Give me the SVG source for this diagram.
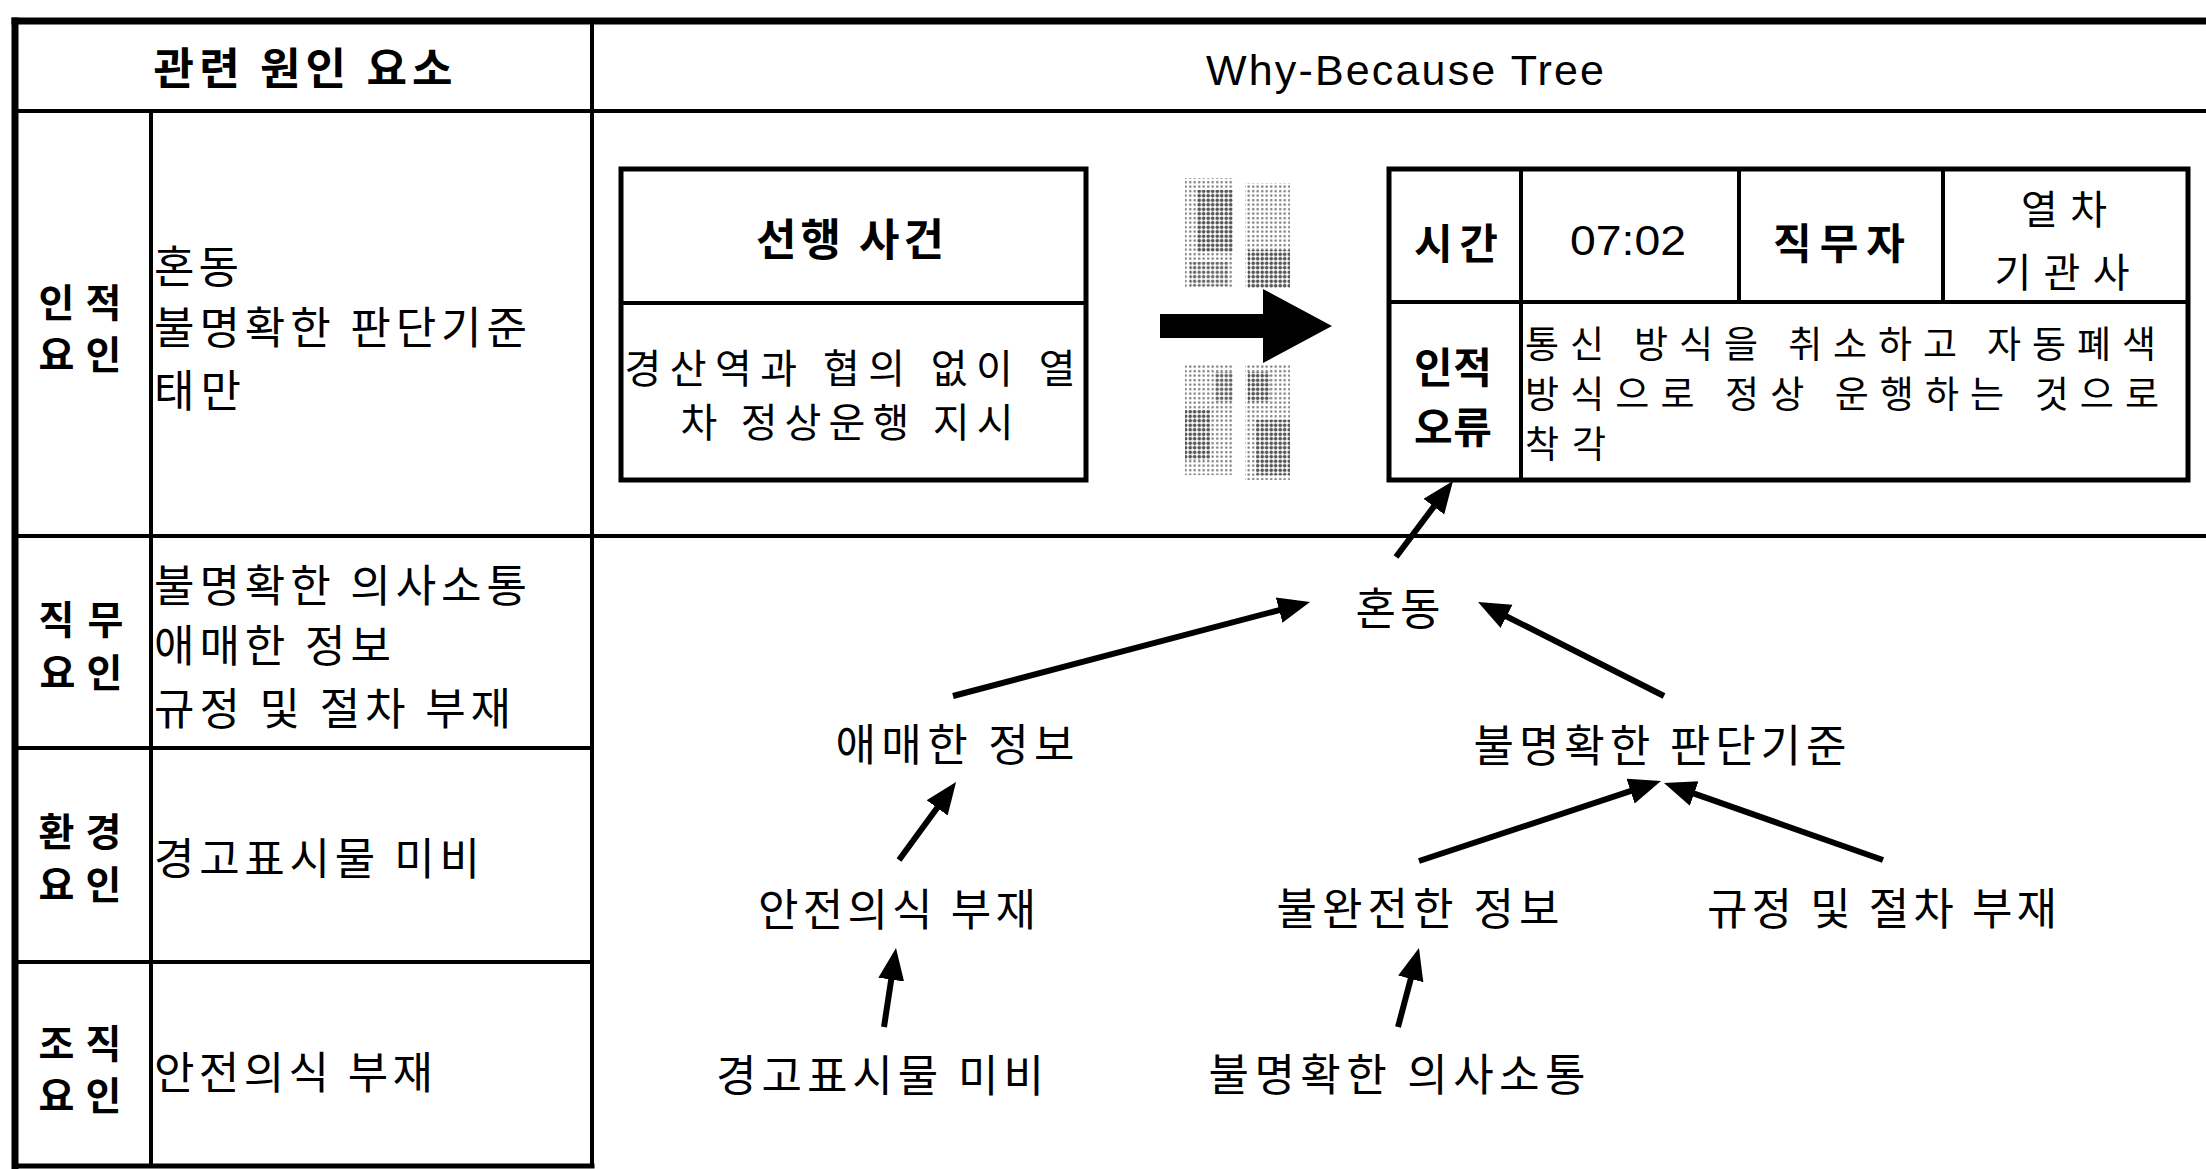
<svg xmlns="http://www.w3.org/2000/svg" width="2206" height="1169" viewBox="0 0 2206 1169">
<style>
.t{font-family:'Noto Sans CJK KR','Noto Sans',sans-serif;font-size:44px;fill:#000;dominant-baseline:central}
.s{font-size:40px}
.k{font-size:42px}
.r{font-size:39px}
.q{font-size:37px}
.l{font-family:'Liberation Sans',Arial,sans-serif;fill:#000;dominant-baseline:central}
.b{font-weight:bold}
.m{text-anchor:middle}
.fr{stroke:#000;fill:none;stroke-linecap:square}
.ar{stroke:#000;stroke-width:6;fill:none;marker-end:url(#ah)}
</style>
<defs>
<marker id="ah" markerUnits="userSpaceOnUse" markerWidth="34" markerHeight="28" refX="6" refY="13" orient="auto">
<path d="M0,0 L32,13 L0,26 Z" fill="#000"/>
</marker>
<pattern id="dl" width="4.5" height="4.5" patternUnits="userSpaceOnUse"><circle cx="2.2" cy="2.2" r="1.2" fill="#777"/></pattern>
<pattern id="dd" width="4.5" height="4.5" patternUnits="userSpaceOnUse"><circle cx="2.2" cy="2.2" r="1.8" fill="#555"/></pattern>
</defs>
<rect width="2206" height="1169" fill="#fff"/>

<g id="frame">
<line class="fr" x1="15" y1="21" x2="2206" y2="21" stroke-width="7"/>
<line class="fr" x1="15" y1="21" x2="15" y2="1166" stroke-width="7"/>
<line class="fr" x1="15" y1="1166" x2="592" y2="1166" stroke-width="5"/>
<line class="fr" x1="15" y1="111" x2="2206" y2="111" stroke-width="4"/>
<line class="fr" x1="151" y1="111" x2="151" y2="1166" stroke-width="4"/>
<line class="fr" x1="592" y1="21" x2="592" y2="1166" stroke-width="4"/>
<line class="fr" x1="15" y1="536" x2="2206" y2="536" stroke-width="4"/>
<line class="fr" x1="15" y1="748" x2="592" y2="748" stroke-width="4"/>
<line class="fr" x1="15" y1="962" x2="592" y2="962" stroke-width="4"/>
</g>

<g id="headers">
<text class="t b m" x="303" y="66" font-size="45" textLength="299" lengthAdjust="spacing">관련 원인 요소</text>
<text class="l m" x="1405" y="70" font-size="43" textLength="398" lengthAdjust="spacing">Why-Because Tree</text>
</g>

<g id="row-human">
<text class="t r b m"><tspan x="80" y="300" textLength="83" lengthAdjust="spacing">인적</tspan><tspan x="80" y="352" textLength="83" lengthAdjust="spacing">요인</tspan></text>
<text class="t"><tspan x="154" y="264" textLength="85" lengthAdjust="spacing">혼동</tspan><tspan x="154" y="325" textLength="373" lengthAdjust="spacing">불명확한 판단기준</tspan><tspan x="154" y="388" textLength="87" lengthAdjust="spacing">태만</tspan></text>
</g>

<g id="row-task">
<text class="t r b m"><tspan x="81" y="617" textLength="85" lengthAdjust="spacing">직무</tspan><tspan x="81" y="670" textLength="83" lengthAdjust="spacing">요인</tspan></text>
<text class="t"><tspan x="154" y="583" textLength="373" lengthAdjust="spacing">불명확한 의사소통</tspan><tspan x="154" y="643" textLength="237" lengthAdjust="spacing">애매한 정보</tspan><tspan x="154" y="706" textLength="357" lengthAdjust="spacing">규정 및 절차 부재</tspan></text>
</g>

<g id="row-env">
<text class="t r b m"><tspan x="80" y="829" textLength="83" lengthAdjust="spacing">환경</tspan><tspan x="80" y="882" textLength="83" lengthAdjust="spacing">요인</tspan></text>
<text class="t" x="154" y="856" textLength="326" lengthAdjust="spacing">경고표시물 미비</text>
</g>

<g id="row-org">
<text class="t r b m"><tspan x="80" y="1041" textLength="83" lengthAdjust="spacing">조직</tspan><tspan x="80" y="1093" textLength="83" lengthAdjust="spacing">요인</tspan></text>
<text class="t" x="154" y="1070" textLength="279" lengthAdjust="spacing">안전의식 부재</text>
</g>

<g id="preceding-event">
<rect class="fr" x="621" y="169" width="465" height="311" stroke-width="5"/>
<line class="fr" x1="621" y1="303" x2="1086" y2="303" stroke-width="4"/>
<text class="t b m" x="850" y="237" textLength="188" lengthAdjust="spacing">선행 사건</text>
<text class="t s m"><tspan x="850" y="366" textLength="451" lengthAdjust="spacing">경산역과 협의 없이 열</tspan><tspan x="847" y="420" textLength="333" lengthAdjust="spacing">차 정상운행 지시</tspan></text>
</g>

<g id="transition">
<rect x="1185" y="178" width="48" height="110" fill="url(#dl)"/>
<rect x="1197" y="190" width="36" height="62" fill="url(#dd)"/>
<rect x="1190" y="262" width="38" height="24" fill="url(#dd)" opacity="0.7"/>
<rect x="1245" y="183" width="45" height="105" fill="url(#dl)"/>
<rect x="1248" y="250" width="42" height="38" fill="url(#dd)"/>
<rect x="1185" y="365" width="48" height="110" fill="url(#dl)"/>
<rect x="1185" y="410" width="25" height="50" fill="url(#dd)"/>
<rect x="1215" y="372" width="18" height="30" fill="url(#dd)" opacity="0.8"/>
<rect x="1245" y="365" width="45" height="115" fill="url(#dl)"/>
<rect x="1248" y="372" width="22" height="30" fill="url(#dd)"/>
<rect x="1256" y="420" width="34" height="55" fill="url(#dd)"/>
<polygon points="1160,314 1263,314 1263,289 1332,326 1263,363 1263,338 1160,338" fill="#000"/>
</g>

<g id="human-error">
<rect class="fr" x="1389" y="169" width="799" height="311" stroke-width="5"/>
<line class="fr" x1="1389" y1="302" x2="2188" y2="302" stroke-width="4"/>
<line class="fr" x1="1521" y1="169" x2="1521" y2="480" stroke-width="4"/>
<line class="fr" x1="1739" y1="169" x2="1739" y2="302" stroke-width="4"/>
<line class="fr" x1="1943" y1="169" x2="1943" y2="302" stroke-width="4"/>
<text class="t k b m" x="1456" y="240" textLength="84" lengthAdjust="spacing">시간</text>
<text class="l m" x="1628" y="240" font-size="42" textLength="116" lengthAdjust="spacingAndGlyphs">07:02</text>
<text class="t k b m" x="1839" y="240" textLength="132" lengthAdjust="spacing">직무자</text>
<text class="t s m"><tspan x="2064" y="207" textLength="86" lengthAdjust="spacing">열차</tspan><tspan x="2062" y="270" textLength="135" lengthAdjust="spacing">기관사</tspan></text>
<text class="t k b m"><tspan x="1453" y="364" textLength="78" lengthAdjust="spacing">인적</tspan><tspan x="1453" y="424" textLength="78" lengthAdjust="spacing">오류</tspan></text>
<text class="t q"><tspan x="1525" y="342" textLength="631" lengthAdjust="spacing">통신 방식을 취소하고 자동폐색</tspan><tspan x="1525" y="392" textLength="634" lengthAdjust="spacing">방식으로 정상 운행하는 것으로</tspan><tspan x="1525" y="442" textLength="81" lengthAdjust="spacing">착각</tspan></text>
</g>

<g id="n-confusion"><text class="t m" x="1398" y="606" textLength="85" lengthAdjust="spacing">혼동</text></g>
<g id="n-ambiguous-info"><text class="t m" x="955" y="742" textLength="239" lengthAdjust="spacing">애매한 정보</text></g>
<g id="n-unclear-criteria"><text class="t m" x="1660" y="743" textLength="373" lengthAdjust="spacing">불명확한 판단기준</text></g>
<g id="n-safety-awareness"><text class="t m" x="897" y="907" textLength="278" lengthAdjust="spacing">안전의식 부재</text></g>
<g id="n-incomplete-info"><text class="t m" x="1418" y="906" textLength="283" lengthAdjust="spacing">불완전한 정보</text></g>
<g id="n-no-rules"><text class="t m" x="1882" y="906" textLength="350" lengthAdjust="spacing">규정 및 절차 부재</text></g>
<g id="n-warning-signs"><text class="t m" x="880" y="1073" textLength="328" lengthAdjust="spacing">경고표시물 미비</text></g>
<g id="n-unclear-comm"><text class="t m" x="1397" y="1072" textLength="377" lengthAdjust="spacing">불명확한 의사소통</text></g>

<g id="connectors">
<line class="ar" x1="1396" y1="557" x2="1437.4" y2="501.8"/>
<line class="ar" x1="953" y1="696" x2="1284.9" y2="608.6"/>
<line class="ar" x1="1664" y1="696" x2="1501.2" y2="613.7"/>
<line class="ar" x1="899" y1="860" x2="940.7" y2="803"/>
<line class="ar" x1="1419" y1="861" x2="1636.3" y2="789.2" stroke-width="9"/>
<line class="ar" x1="1883" y1="860" x2="1688.5" y2="791.6"/>
<line class="ar" x1="884" y1="1027" x2="892.1" y2="973.7"/>
<line class="ar" x1="1398" y1="1027" x2="1412.3" y2="973.1"/>
</g>
</svg>
